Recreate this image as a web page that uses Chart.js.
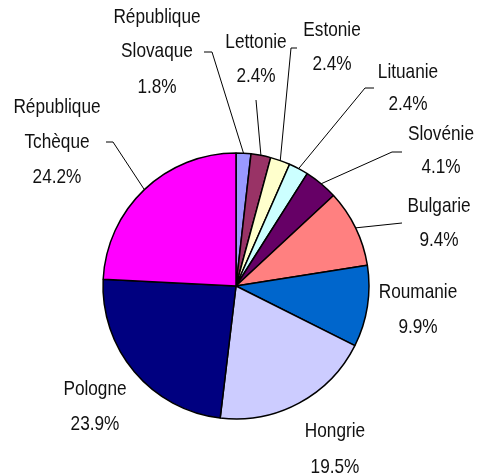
<!DOCTYPE html>
<html>
<head>
<meta charset="utf-8">
<script src="https://cdn.jsdelivr.net/npm/chart.js@4"></script>
<style>
  html, body { margin: 0; padding: 0; background: #fff; }
  #wrap { width: 478px; height: 474px; position: relative; }
</style>
</head>
<body>
<div id="wrap"><canvas id="pie"></canvas></div>
<script>
const countries = ['République\nSlovaque', 'Lettonie', 'Estonie', 'Lituanie', 'Slovénie',
  'Bulgarie', 'Roumanie', 'Hongrie', 'Pologne', 'République\nTchèque'];
const shares = [1.8, 2.4, 2.4, 2.4, 4.1, 9.4, 9.9, 19.5, 23.9, 24.2];
const colors = ['#9999FF', '#993366', '#FFFFCC', '#CCFFFF', '#660066',
  '#FF8080', '#0066CC', '#CCCCFF', '#000080', '#FF00FF'];

// label layout: centre x and the baseline of each text line, plus leader line elbow points
const labelX = [157, 256, 332, 408, 441, 439, 418, 335, 95, 57];
const labelBase = [[23, 57, 93], [48, 82], [36, 70], [78, 110], [140, 173],
  [212, 246], [298, 333], [437, 473], [395, 430], [113, 148, 183]];
const leaders = [[[204, 52], [212, 52]], [[256, 100]], [[297, 48], [291, 48]],
  [[374, 88], [365, 88]], [[402, 152], [392, 152]], [[402, 223]], null, null, null,
  [[106, 142], [113, 142]]];

const pieLabels = {
  id: 'pieLabels',
  afterDraw(chart) {
    const ctx = chart.ctx;
    const arcs = chart.getDatasetMeta(0).data;
    ctx.save();
    ctx.strokeStyle = '#000';
    ctx.lineWidth = 1;
    arcs.forEach((arc, i) => {
      if (!leaders[i]) return;
      const { x, y, startAngle, endAngle, outerRadius } = arc.getProps(['x', 'y', 'startAngle', 'endAngle', 'outerRadius'], true);
      const mid = (startAngle + endAngle) / 2;
      ctx.beginPath();
      leaders[i].forEach((p, k) => k === 0 ? ctx.moveTo(p[0], p[1]) : ctx.lineTo(p[0], p[1]));
      ctx.lineTo(x + Math.cos(mid) * outerRadius, y + Math.sin(mid) * outerRadius);
      ctx.stroke();
    });

    ctx.fillStyle = '#111';
    ctx.font = '21px "Liberation Sans", Arial, sans-serif';
    ctx.textAlign = 'center';
    ctx.textBaseline = 'alphabetic';
    countries.forEach((name, i) => {
      const lines = name.split('\n').concat(shares[i].toFixed(1) + '%');
      lines.forEach((txt, k) => {
        ctx.save();
        ctx.translate(labelX[i], labelBase[i][k]);
        ctx.scale(0.82, 1);
        ctx.fillText(txt, 0, 0);
        ctx.restore();
      });
    });
    ctx.restore();
  }
};

new Chart(document.getElementById('pie'), {
  type: 'pie',
  data: {
    labels: countries,
    datasets: [{
      data: shares,
      backgroundColor: colors,
      borderColor: '#000',
      borderWidth: 1.5,
      hoverOffset: 0
    }]
  },
  options: {
    responsive: true,
    maintainAspectRatio: false,
    devicePixelRatio: 1,
    animation: false,
    radius: 133,
    layout: { padding: { left: 0, right: 6, top: 98, bottom: 0 } },
    plugins: {
      legend: { display: false },
      tooltip: { enabled: false }
    },
    events: []
  },
  plugins: [pieLabels]
});
</script>
</body>
</html>
